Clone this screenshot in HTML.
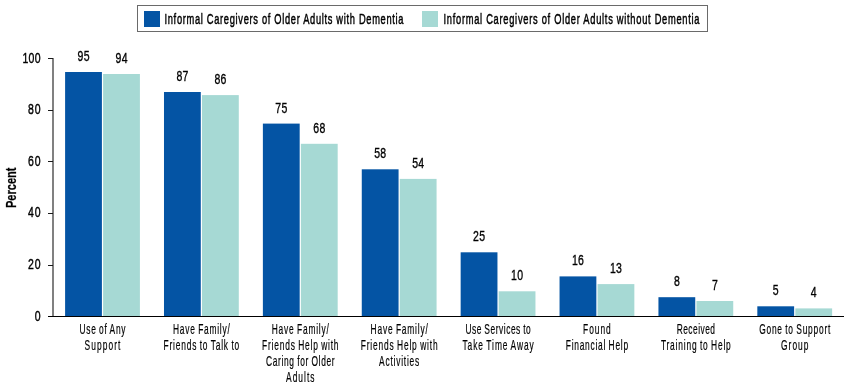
<!DOCTYPE html>
<html><head><meta charset="utf-8"><style>
html,body{margin:0;padding:0;background:#fff;width:850px;height:388px;overflow:hidden}
svg{display:block;will-change:transform}
text{font-family:"Liberation Sans", sans-serif;fill:#000;stroke:#000}
</style></head><body>
<svg width="850" height="388" viewBox="0 0 850 388">
<rect x="137.5" y="5.5" width="570" height="26" fill="#fff" stroke="#6a6a6a" stroke-width="1"/>
<rect x="144" y="11" width="16" height="16" fill="#0454a4"/>
<rect x="422" y="11" width="16" height="16" fill="#a6d9d4"/>
<text transform="translate(164.50 24.2) scale(0.6 1)" x="0" y="0" font-size="15.5" text-anchor="start" font-weight="normal" word-spacing="0" textLength="398.33" lengthAdjust="spacing" style="stroke-width:0.50px">Informal Caregivers of Older Adults with Dementia</text>
<text transform="translate(443.50 24.4) scale(0.6 1)" x="0" y="0" font-size="15.5" text-anchor="start" font-weight="normal" word-spacing="0" textLength="426.67" lengthAdjust="spacing" style="stroke-width:0.50px">Informal Caregivers of Older Adults without Dementia</text>
<rect x="52" y="58" width="2" height="258" fill="#808080"/>
<rect x="48" y="316" width="5" height="1" fill="#1a1a1a"/>
<text transform="translate(40.50 320.50) scale(0.7 1)" x="0" y="0" font-size="15" text-anchor="end" font-weight="normal" word-spacing="0" textLength="8.57" lengthAdjust="spacing" style="stroke-width:0.43px">0</text>
<rect x="48" y="265" width="5" height="1" fill="#1a1a1a"/>
<text transform="translate(40.50 268.90) scale(0.7 1)" x="0" y="0" font-size="15" text-anchor="end" font-weight="normal" word-spacing="0" textLength="17.86" lengthAdjust="spacing" style="stroke-width:0.43px">20</text>
<rect x="48" y="213" width="5" height="1" fill="#1a1a1a"/>
<text transform="translate(40.50 217.30) scale(0.7 1)" x="0" y="0" font-size="15" text-anchor="end" font-weight="normal" word-spacing="0" textLength="17.86" lengthAdjust="spacing" style="stroke-width:0.43px">40</text>
<rect x="48" y="161" width="5" height="1" fill="#1a1a1a"/>
<text transform="translate(40.50 165.70) scale(0.7 1)" x="0" y="0" font-size="15" text-anchor="end" font-weight="normal" word-spacing="0" textLength="17.86" lengthAdjust="spacing" style="stroke-width:0.43px">60</text>
<rect x="48" y="110" width="5" height="1" fill="#1a1a1a"/>
<text transform="translate(40.50 114.10) scale(0.7 1)" x="0" y="0" font-size="15" text-anchor="end" font-weight="normal" word-spacing="0" textLength="17.86" lengthAdjust="spacing" style="stroke-width:0.43px">80</text>
<rect x="48" y="58" width="5" height="1" fill="#1a1a1a"/>
<text transform="translate(40.50 62.50) scale(0.7 1)" x="0" y="0" font-size="15" text-anchor="end" font-weight="normal" word-spacing="0" textLength="25.71" lengthAdjust="spacing" style="stroke-width:0.43px">100</text>
<rect x="48" y="316" width="796" height="1" fill="#000"/>
<text transform="translate(16.4 187.8) rotate(-90)" x="0" y="0" font-size="14.5" font-weight="bold" text-anchor="middle" textLength="40.5" lengthAdjust="spacingAndGlyphs" style="stroke-width:0.25px">Percent</text>
<rect x="65.10" y="72" width="36.8" height="244.00" fill="#0454a4"/>
<rect x="103.10" y="74" width="36.8" height="242.00" fill="#a6d9d4"/>
<text transform="translate(83.50 61.00) scale(0.7 1)" x="0" y="0" font-size="15" text-anchor="middle" font-weight="normal" word-spacing="0" textLength="17.14" lengthAdjust="spacing" style="stroke-width:0.36px">95</text>
<text transform="translate(121.50 63.00) scale(0.7 1)" x="0" y="0" font-size="15" text-anchor="middle" font-weight="normal" word-spacing="0" textLength="17.14" lengthAdjust="spacing" style="stroke-width:0.36px">94</text>
<rect x="163.99" y="92" width="36.8" height="224.00" fill="#0454a4"/>
<rect x="201.99" y="95.1" width="36.8" height="220.90" fill="#a6d9d4"/>
<text transform="translate(182.39 81.00) scale(0.7 1)" x="0" y="0" font-size="15" text-anchor="middle" font-weight="normal" word-spacing="0" textLength="17.14" lengthAdjust="spacing" style="stroke-width:0.36px">87</text>
<text transform="translate(220.39 84.10) scale(0.7 1)" x="0" y="0" font-size="15" text-anchor="middle" font-weight="normal" word-spacing="0" textLength="17.14" lengthAdjust="spacing" style="stroke-width:0.36px">86</text>
<rect x="262.88" y="123.6" width="36.8" height="192.40" fill="#0454a4"/>
<rect x="300.88" y="143.8" width="36.8" height="172.20" fill="#a6d9d4"/>
<text transform="translate(281.28 112.60) scale(0.7 1)" x="0" y="0" font-size="15" text-anchor="middle" font-weight="normal" word-spacing="0" textLength="17.14" lengthAdjust="spacing" style="stroke-width:0.36px">75</text>
<text transform="translate(319.28 132.80) scale(0.7 1)" x="0" y="0" font-size="15" text-anchor="middle" font-weight="normal" word-spacing="0" textLength="17.14" lengthAdjust="spacing" style="stroke-width:0.36px">68</text>
<rect x="361.77" y="169.3" width="36.8" height="146.70" fill="#0454a4"/>
<rect x="399.77" y="178.9" width="36.8" height="137.10" fill="#a6d9d4"/>
<text transform="translate(380.17 158.30) scale(0.7 1)" x="0" y="0" font-size="15" text-anchor="middle" font-weight="normal" word-spacing="0" textLength="17.14" lengthAdjust="spacing" style="stroke-width:0.36px">58</text>
<text transform="translate(418.17 167.90) scale(0.7 1)" x="0" y="0" font-size="15" text-anchor="middle" font-weight="normal" word-spacing="0" textLength="17.14" lengthAdjust="spacing" style="stroke-width:0.36px">54</text>
<rect x="460.66" y="252.3" width="36.8" height="63.70" fill="#0454a4"/>
<rect x="498.66" y="291.3" width="36.8" height="24.70" fill="#a6d9d4"/>
<text transform="translate(479.06 241.30) scale(0.7 1)" x="0" y="0" font-size="15" text-anchor="middle" font-weight="normal" word-spacing="0" textLength="17.14" lengthAdjust="spacing" style="stroke-width:0.36px">25</text>
<text transform="translate(517.06 280.30) scale(0.7 1)" x="0" y="0" font-size="15" text-anchor="middle" font-weight="normal" word-spacing="0" textLength="17.14" lengthAdjust="spacing" style="stroke-width:0.36px">10</text>
<rect x="559.55" y="276.4" width="36.8" height="39.60" fill="#0454a4"/>
<rect x="597.55" y="284.1" width="36.8" height="31.90" fill="#a6d9d4"/>
<text transform="translate(577.95 265.40) scale(0.7 1)" x="0" y="0" font-size="15" text-anchor="middle" font-weight="normal" word-spacing="0" textLength="17.14" lengthAdjust="spacing" style="stroke-width:0.36px">16</text>
<text transform="translate(615.95 273.10) scale(0.7 1)" x="0" y="0" font-size="15" text-anchor="middle" font-weight="normal" word-spacing="0" textLength="17.14" lengthAdjust="spacing" style="stroke-width:0.36px">13</text>
<rect x="658.44" y="297.2" width="36.8" height="18.80" fill="#0454a4"/>
<rect x="696.44" y="301" width="36.8" height="15.00" fill="#a6d9d4"/>
<text transform="translate(676.84 286.20) scale(0.7 1)" x="0" y="0" font-size="15" text-anchor="middle" font-weight="normal" word-spacing="0" textLength="8.57" lengthAdjust="spacing" style="stroke-width:0.36px">8</text>
<text transform="translate(714.84 290.00) scale(0.7 1)" x="0" y="0" font-size="15" text-anchor="middle" font-weight="normal" word-spacing="0" textLength="8.57" lengthAdjust="spacing" style="stroke-width:0.36px">7</text>
<rect x="757.33" y="306.3" width="36.8" height="9.70" fill="#0454a4"/>
<rect x="795.33" y="308.4" width="36.8" height="7.60" fill="#a6d9d4"/>
<text transform="translate(775.73 295.30) scale(0.7 1)" x="0" y="0" font-size="15" text-anchor="middle" font-weight="normal" word-spacing="0" textLength="8.57" lengthAdjust="spacing" style="stroke-width:0.36px">5</text>
<text transform="translate(813.73 297.40) scale(0.7 1)" x="0" y="0" font-size="15" text-anchor="middle" font-weight="normal" word-spacing="0" textLength="8.57" lengthAdjust="spacing" style="stroke-width:0.36px">4</text>
<text transform="translate(102.50 333.70) scale(0.6 1)" x="0" y="0" font-size="14" text-anchor="middle" font-weight="normal" word-spacing="-1" textLength="76.83" lengthAdjust="spacing" style="stroke-width:0.20px">Use of Any</text>
<text transform="translate(102.50 349.70) scale(0.6 1)" x="0" y="0" font-size="14" text-anchor="middle" font-weight="normal" word-spacing="-1" textLength="59.67" lengthAdjust="spacing" style="stroke-width:0.20px">Support</text>
<text transform="translate(201.39 333.70) scale(0.6 1)" x="0" y="0" font-size="14" text-anchor="middle" font-weight="normal" word-spacing="-1" textLength="94.67" lengthAdjust="spacing" style="stroke-width:0.20px">Have Family/</text>
<text transform="translate(201.39 349.70) scale(0.6 1)" x="0" y="0" font-size="14" text-anchor="middle" font-weight="normal" word-spacing="-1" textLength="126.17" lengthAdjust="spacing" style="stroke-width:0.20px">Friends to Talk to</text>
<text transform="translate(300.28 333.70) scale(0.6 1)" x="0" y="0" font-size="14" text-anchor="middle" font-weight="normal" word-spacing="-1" textLength="95.17" lengthAdjust="spacing" style="stroke-width:0.20px">Have Family/</text>
<text transform="translate(300.28 349.70) scale(0.6 1)" x="0" y="0" font-size="14" text-anchor="middle" font-weight="normal" word-spacing="-1" textLength="127.33" lengthAdjust="spacing" style="stroke-width:0.20px">Friends Help with</text>
<text transform="translate(300.28 365.70) scale(0.6 1)" x="0" y="0" font-size="14" text-anchor="middle" font-weight="normal" word-spacing="-1" textLength="114.67" lengthAdjust="spacing" style="stroke-width:0.20px">Caring for Older</text>
<text transform="translate(300.28 381.70) scale(0.6 1)" x="0" y="0" font-size="14" text-anchor="middle" font-weight="normal" word-spacing="-1" textLength="47.50" lengthAdjust="spacing" style="stroke-width:0.20px">Adults</text>
<text transform="translate(399.17 333.70) scale(0.6 1)" x="0" y="0" font-size="14" text-anchor="middle" font-weight="normal" word-spacing="-1" textLength="95.50" lengthAdjust="spacing" style="stroke-width:0.20px">Have Family/</text>
<text transform="translate(399.17 349.70) scale(0.6 1)" x="0" y="0" font-size="14" text-anchor="middle" font-weight="normal" word-spacing="-1" textLength="128.00" lengthAdjust="spacing" style="stroke-width:0.20px">Friends Help with</text>
<text transform="translate(399.17 365.70) scale(0.6 1)" x="0" y="0" font-size="14" text-anchor="middle" font-weight="normal" word-spacing="-1" textLength="67.00" lengthAdjust="spacing" style="stroke-width:0.20px">Activities</text>
<text transform="translate(498.06 333.70) scale(0.6 1)" x="0" y="0" font-size="14" text-anchor="middle" font-weight="normal" word-spacing="-1" textLength="108.83" lengthAdjust="spacing" style="stroke-width:0.20px">Use Services to</text>
<text transform="translate(498.06 349.70) scale(0.6 1)" x="0" y="0" font-size="14" text-anchor="middle" font-weight="normal" word-spacing="-1" textLength="118.83" lengthAdjust="spacing" style="stroke-width:0.20px">Take Time Away</text>
<text transform="translate(596.95 333.70) scale(0.6 1)" x="0" y="0" font-size="14" text-anchor="middle" font-weight="normal" word-spacing="-1" textLength="46.17" lengthAdjust="spacing" style="stroke-width:0.20px">Found</text>
<text transform="translate(596.95 349.70) scale(0.6 1)" x="0" y="0" font-size="14" text-anchor="middle" font-weight="normal" word-spacing="-1" textLength="104.00" lengthAdjust="spacing" style="stroke-width:0.20px">Financial Help</text>
<text transform="translate(695.84 333.70) scale(0.6 1)" x="0" y="0" font-size="14" text-anchor="middle" font-weight="normal" word-spacing="-1" textLength="64.00" lengthAdjust="spacing" style="stroke-width:0.20px">Received</text>
<text transform="translate(695.84 349.70) scale(0.6 1)" x="0" y="0" font-size="14" text-anchor="middle" font-weight="normal" word-spacing="-1" textLength="116.50" lengthAdjust="spacing" style="stroke-width:0.20px">Training to Help</text>
<text transform="translate(794.73 333.70) scale(0.6 1)" x="0" y="0" font-size="14" text-anchor="middle" font-weight="normal" word-spacing="-1" textLength="118.50" lengthAdjust="spacing" style="stroke-width:0.20px">Gone to Support</text>
<text transform="translate(794.73 349.70) scale(0.6 1)" x="0" y="0" font-size="14" text-anchor="middle" font-weight="normal" word-spacing="-1" textLength="45.67" lengthAdjust="spacing" style="stroke-width:0.20px">Group</text>
</svg>
</body></html>
